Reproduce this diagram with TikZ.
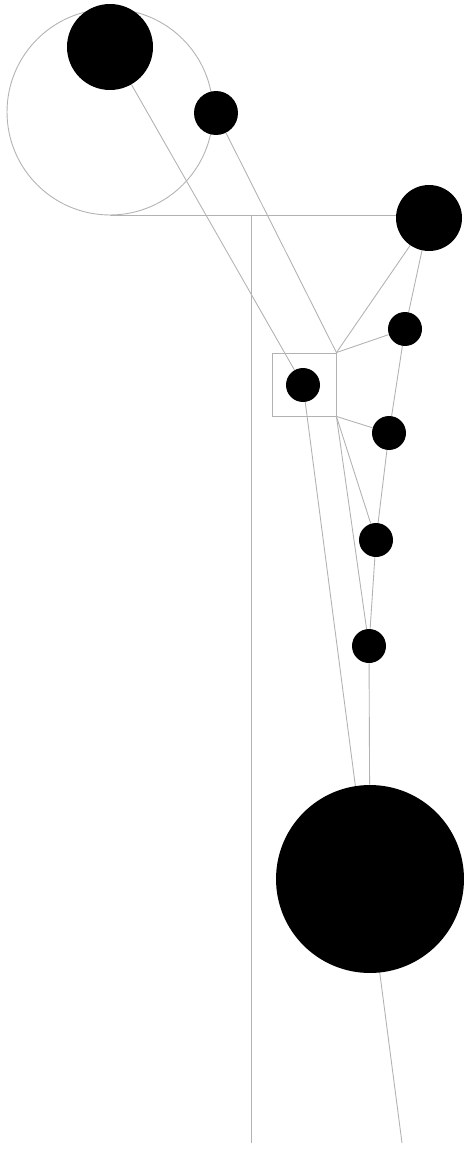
\documentclass[tikz,border=0pt]{standalone}
\usepackage{xcolor}
\definecolor{wiregrey}{RGB}{178,178,178}
\usetikzlibrary{positioning, backgrounds}

\begin{document}
\begin{tikzpicture}[x=0.02cm, y=-0.02cm,
    wire/.style={draw=wiregrey, line width=0.5pt},
    blob/.style={circle, fill=black, inner sep=0pt}]
  \useasboundingbox (0,0) rectangle (464,1149);

  % outline ring, top left
  \node[circle, wire, inner sep=0pt, minimum size=4.12cm] (ring) at (110,112) {};

  % black discs
  \node[blob, minimum size=1.72cm] (head) at (110,47) {};
  \node[blob, minimum size=0.88cm] (eye) at (216,113) {};
  \node[blob, minimum size=1.32cm] (knob) at (429,218) {};
  \node[blob, minimum size=0.68cm] (d1) at (405,329) {};
  \node[blob, minimum size=0.68cm] (hub) at (303,385) {};
  \node[blob, minimum size=0.68cm] (d2) at (389,433) {};
  \node[blob, minimum size=0.68cm] (d3) at (376,540) {};
  \node[blob, minimum size=0.68cm] (d4) at (369,646) {};
  \node[blob, minimum size=3.76cm] (base) at (370,879) {};

  % frame round the hub
  \node[rectangle, wire, inner sep=0pt, minimum width=1.28cm, minimum height=1.26cm] (frame) at (304,384.5) {};

  % free ends
  \coordinate (foot) at (251,1143);
  \coordinate (tail) at (402,1143);

  \begin{scope}[on background layer]
    % beam and post
    \draw[wire] (ring.south) -- (ring.south -| knob.west);
    \draw[wire] (ring.south -| foot) -- (foot);

    % spokes
    \draw[wire] (head) -- (hub);
    \draw[wire] (eye) -- (frame.north east);
    \draw[wire] (knob) -- (frame.north east);
    \draw[wire] (knob) -- (d1);
    \draw[wire] (d1) -- (frame.north east);
    \draw[wire] (d1) -- (d2);
    \draw[wire] (frame.south east) -- (d2);
    \draw[wire] (frame.south east) -- (d3);
    \draw[wire] (frame.south east) -- (d4);
    \draw[wire] (d2) -- (d3);
    \draw[wire] (d3) -- (d4);
    \draw[wire] (d4) -- (base);
    \draw[wire] (hub) -- (tail);
  \end{scope}

\end{tikzpicture}
\end{document}
